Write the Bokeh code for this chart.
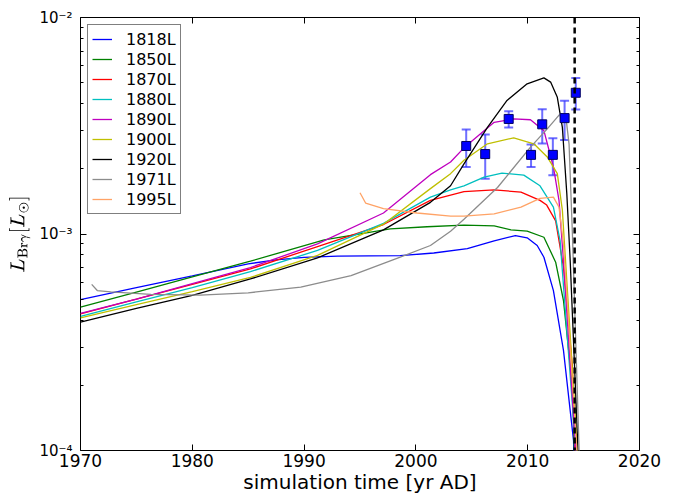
import numpy as np
from bokeh.plotting import figure
from bokeh.models import (Range1d, LinearAxis, LogAxis, FixedTicker, Span, Whisker,
                          TeeHead, ColumnDataSource, Legend, LegendItem, CustomJSTickFormatter)
from bokeh.embed import file_html
from bokeh.resources import INLINE

# ---- data ----
t_1818 = [1970, 1975, 1980, 1985, 1987.5, 1990, 1993, 1998.6, 2001.6, 2004.6, 2007, 2008.9, 2009.95, 2010.85, 2011.45, 2012.3, 2013.2, 2014.1, 2014.25]
v_1818 = [4.98e-4, 5.65e-4, 6.41e-4, 7.28e-4, 7.6e-4, 7.8e-4, 7.9e-4, 7.94e-4, 8.17e-4, 8.55e-4, 9.3e-4, 9.84e-4, 9.6e-4, 8.85e-4, 7.81e-4, 5.48e-4, 2.9e-4, 1.11e-4, 5e-5]

t_1850 = [1970, 1975, 1980, 1985.2, 1991.8, 1997.7, 2001, 2004.3, 2007, 2008.5, 2009.95, 2011.45, 2012.5, 2013.2, 2014.0, 2014.35]
v_1850 = [4.59e-4, 5.39e-4, 6.34e-4, 7.49e-4, 9.4e-4, 1.057e-3, 1.08e-3, 1.10e-3, 1.09e-3, 1.045e-3, 1.03e-3, 9.66e-4, 7.41e-4, 4.93e-4, 1.96e-4, 5e-5]

t_1870 = [1970, 1975, 1980, 1985.2, 1991.2, 1997.1, 2001.3, 2004.3, 2007, 2009.4, 2011.1, 2011.7, 2012.5, 2013.2, 2014.0, 2014.4]
v_1870 = [4.28e-4, 5.0e-4, 5.85e-4, 6.9e-4, 8.75e-4, 1.106e-3, 1.43e-3, 1.57e-3, 1.60e-3, 1.56e-3, 1.43e-3, 1.36e-3, 1.15e-3, 7.03e-4, 2.43e-4, 5e-5]

t_1880 = [1970, 1975, 1980, 1985.2, 1991.2, 1997.1, 2001.3, 2003.1, 2004.3, 2006.1, 2007.7, 2009.65, 2011.1, 2012.3, 2012.9, 2014.3, 2014.45]
v_1880 = [4.16e-4, 4.86e-4, 5.66e-4, 6.7e-4, 8.4e-4, 1.12e-3, 1.48e-3, 1.6e-3, 1.67e-3, 1.83e-3, 1.91e-3, 1.87e-3, 1.67e-3, 1.33e-3, 9.3e-4, 1e-4, 5e-5]

t_1890 = [1970, 1975, 1980, 1985.2, 1991.2, 1997.1, 2001.3, 2003.1, 2004.3, 2007, 2008.75, 2010.25, 2011.45, 2012.3, 2012.8, 2013.2, 2014.3, 2014.45]
v_1890 = [4.3e-4, 5.0e-4, 5.9e-4, 7.0e-4, 9.0e-4, 1.25e-3, 1.88e-3, 2.15e-3, 2.5e-3, 3.28e-3, 3.40e-3, 3.37e-3, 3.0e-3, 2.04e-3, 1.43e-3, 7.55e-4, 1e-4, 5e-5]

t_1900 = [1970, 1975, 1980, 1985.2, 1991.2, 1997.1, 2001.3, 2003.1, 2004.3, 2006.4, 2008.75, 2010.55, 2011.75, 2012.65, 2013.1, 2014.45, 2014.55]
v_1900 = [4.1e-4, 4.72e-4, 5.42e-4, 6.3e-4, 7.96e-4, 1.11e-3, 1.62e-3, 1.90e-3, 2.19e-3, 2.61e-3, 2.78e-3, 2.61e-3, 2.27e-3, 1.90e-3, 1.29e-3, 1e-4, 5e-5]

t_1920 = [1970, 1975, 1980, 1985.2, 1991.2, 1997.1, 2001.3, 2003.1, 2004.3, 2006.4, 2008.15, 2009.95, 2011.45, 2012.05, 2012.65, 2013.1, 2013.5, 2013.8, 2014.5, 2014.6]
v_1920 = [3.92e-4, 4.53e-4, 5.21e-4, 6.2e-4, 7.76e-4, 1.045e-3, 1.40e-3, 1.67e-3, 2.11e-3, 3.11e-3, 4.14e-3, 4.94e-3, 5.26e-3, 5.03e-3, 4.28e-3, 3.11e-3, 1.53e-3, 7.55e-4, 1e-4, 5e-5]

t_1971 = [1971.0, 1971.5, 1972.7, 1976.3, 1980.7, 1985, 1989.7, 1994.2, 1998.6, 2001.3, 2003.1, 2004.3, 2007.3, 2010.25, 2011.75, 2012.9, 2013.4, 2013.7, 2014.0, 2014.6, 2014.7]
v_1971 = [5.85e-4, 5.48e-4, 5.4e-4, 5.26e-4, 5.22e-4, 5.35e-4, 5.68e-4, 6.43e-4, 7.82e-4, 8.85e-4, 1.03e-3, 1.17e-3, 1.64e-3, 2.52e-3, 3.06e-3, 3.59e-3, 3.53e-3, 2.6e-3, 1.0e-3, 1e-4, 5e-5]

t_1995 = [1995.0, 1995.5, 1997.1, 2000.1, 2003.1, 2004.3, 2007, 2009.4, 2011.1, 2012.3, 2012.8, 2013.2, 2014.4, 2014.5]
v_1995 = [1.55e-3, 1.39e-3, 1.31e-3, 1.25e-3, 1.21e-3, 1.21e-3, 1.24e-3, 1.33e-3, 1.46e-3, 1.48e-3, 1.33e-3, 9.0e-4, 1e-4, 5e-5]

labels = ["1818L", "1850L", "1870L", "1880L", "1890L", "1900L", "1920L", "1971L", "1995L"]
colors = ["#0000ff", "#008000", "#ff0000", "#00bfbf", "#bf00bf", "#bfbf00", "#000000", "#8c8c8c", "#ffa366"]
series_t = [t_1818, t_1850, t_1870, t_1880, t_1890, t_1900, t_1920, t_1971, t_1995]
series_v = [v_1818, v_1850, v_1870, v_1880, v_1890, v_1900, v_1920, v_1971, v_1995]

obs_t = [2004.5, 2006.2, 2008.3, 2010.3, 2011.3, 2012.25, 2013.3, 2014.3]
obs_v = [2.55e-3, 2.34e-3, 3.40e-3, 2.32e-3, 3.21e-3, 2.32e-3, 3.43e-3, 4.49e-3]
obs_hi = [3.04e-3, 2.88e-3, 3.69e-3, 2.59e-3, 3.77e-3, 2.77e-3, 4.12e-3, 5.25e-3]
obs_lo = [2.04e-3, 1.80e-3, 3.10e-3, 2.04e-3, 2.62e-3, 1.87e-3, 2.72e-3, 3.76e-3]

peri_t = 2014.2

x_ticks = [1970, 1980, 1990, 2000, 2010, 2020]
y_major = [1e-4, 1e-3, 1e-2]
y_minor = [2e-4, 3e-4, 4e-4, 5e-4, 6e-4, 7e-4, 8e-4, 9e-4,
           2e-3, 3e-3, 4e-3, 5e-3, 6e-3, 7e-3, 8e-3, 9e-3]

FONT = "DejaVu Sans"

p = figure(width=676, height=497, output_backend="svg", toolbar_location=None,
           y_axis_type="log", x_range=Range1d(1970, 2020), y_range=Range1d(1e-4, 1e-2),
           min_border_left=80, min_border_right=37, min_border_top=17, min_border_bottom=47)
p.grid.visible = False
p.outline_line_color = "black"
p.outline_line_width = 1
p.background_fill_color = "white"
p.border_fill_color = "white"

items = []
for lab, col, tt, vv in zip(labels, colors, series_t, series_v):
    r = p.line(tt, vv, line_color=col, line_width=1.3)
    items.append(LegendItem(label=lab, renderers=[r]))

p.add_layout(Span(location=peri_t, dimension="height", line_color="black",
                  line_width=2.5, line_dash="6 4"))

src = ColumnDataSource(dict(t=obs_t, v=obs_v, hi=obs_hi, lo=obs_lo))
wh = Whisker(source=src, base="t", upper="hi", lower="lo", line_color="#3030ff",
             line_alpha=0.7, line_width=2,
             upper_head=TeeHead(size=9, line_color="#3030ff", line_alpha=0.7, line_width=2),
             lower_head=TeeHead(size=9, line_color="#3030ff", line_alpha=0.7, line_width=2))
p.add_layout(wh)
p.scatter("t", "v", source=src, marker="square", size=9, fill_color="#0000ff",
          line_color="#000060", line_width=1)

sup_fmt = CustomJSTickFormatter(code="""
const e = Math.round(Math.log10(tick));
const sup = {'-': '\u207b', '0': '\u2070', '1': '\u00b9', '2': '\u00b2', '3': '\u00b3',
             '4': '\u2074', '5': '\u2075', '6': '\u2076', '7': '\u2077', '8': '\u2078', '9': '\u2079'};
return '10' + String(e).split('').map(c => sup[c]).join('');
""")

# axes styling
xa = p.xaxis[0]
xa.ticker = FixedTicker(ticks=x_ticks)
xa.axis_label = "simulation time [yr AD]"
ya = p.yaxis[0]
ya.ticker = FixedTicker(ticks=y_major, minor_ticks=y_minor)
ya.formatter = sup_fmt
ya.axis_label = r"$$L_{\mathrm{Br\gamma}}[L_\odot]$$"

for ax in [xa, ya]:
    ax.axis_line_color = None
    ax.major_tick_in = 6
    ax.major_tick_out = 0
    ax.minor_tick_in = 3
    ax.minor_tick_out = 0
    ax.major_tick_line_color = "black"
    ax.minor_tick_line_color = "black"
    ax.major_label_text_font = FONT
    ax.major_label_text_font_size = "17px"
    ax.major_label_text_color = "black"
    ax.axis_label_text_font = FONT
    ax.axis_label_text_font_size = "20px"
    ax.axis_label_text_font_style = "normal"
    ax.axis_label_text_color = "black"
xa.minor_tick_in = 0
xa.major_label_standoff = 3
xa.axis_label_standoff = 0
ya.major_label_text_font_size = "15px"
ya.major_label_standoff = 8
ya.axis_label_standoff = 6
ya.axis_label_text_font_size = "15px"

blank = CustomJSTickFormatter(code="return ''")
top = LinearAxis(ticker=FixedTicker(ticks=x_ticks), formatter=blank)
right = LogAxis(ticker=FixedTicker(ticks=y_major, minor_ticks=y_minor), formatter=blank)
for ax in [top, right]:
    ax.axis_line_color = None
    ax.major_tick_in = 6
    ax.major_tick_out = 0
    ax.minor_tick_in = 3
    ax.minor_tick_out = 0
    ax.major_label_standoff = 0
top.minor_tick_in = 0
p.add_layout(top, "above")
p.add_layout(right, "right")

legend = Legend(items=items, location="top_left", margin=7, padding=4, spacing=0,
                glyph_width=20, glyph_height=20, label_height=20, label_standoff=14,
                label_text_font=FONT, label_text_font_size="16px", label_text_color="black",
                border_line_color="black", border_line_width=1,
                background_fill_alpha=1.0)
p.add_layout(legend)

open("out.html", "w").write(file_html(p, INLINE))
